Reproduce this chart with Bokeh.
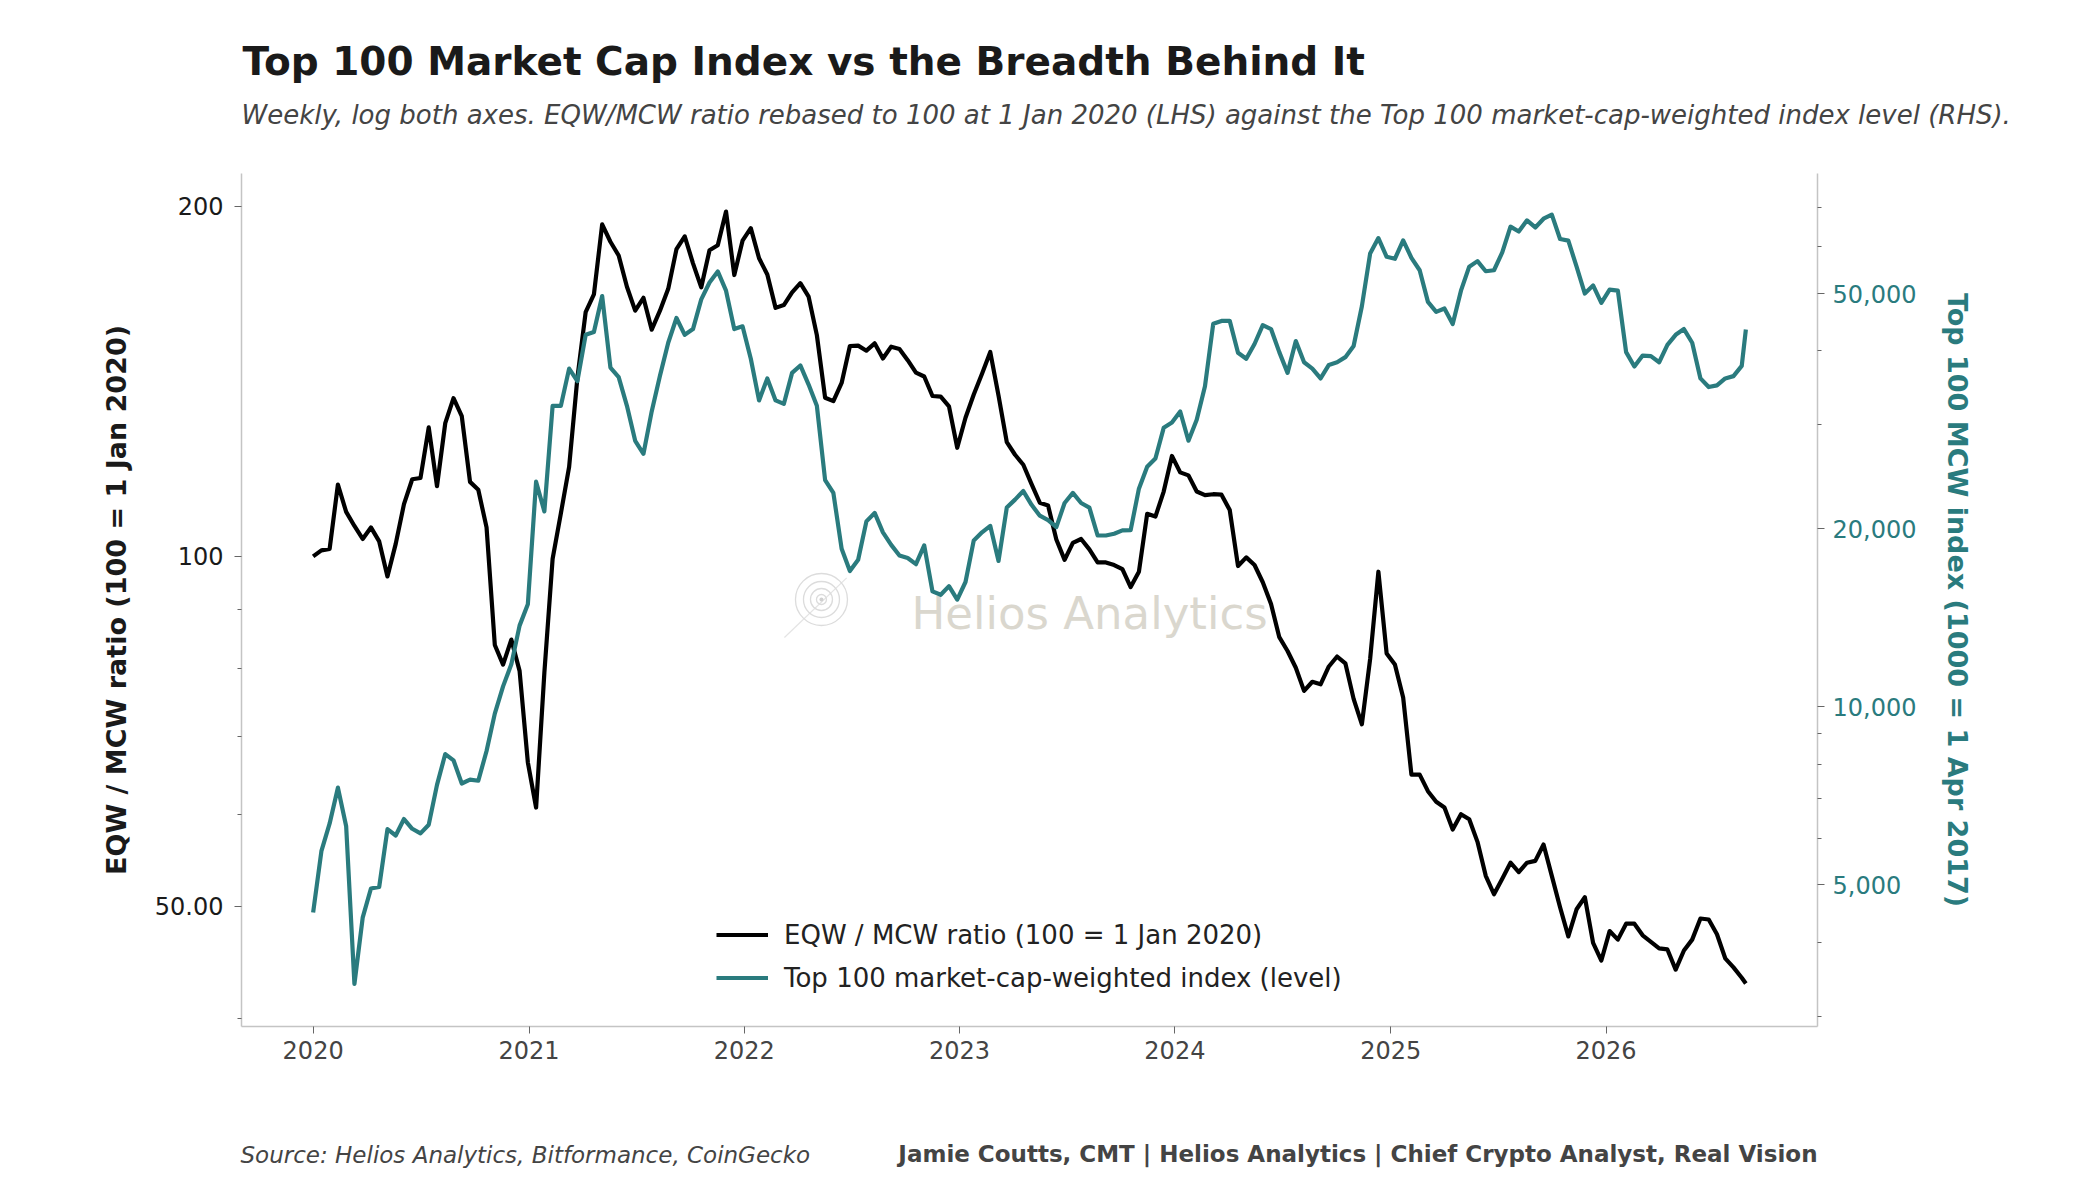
import math

import pandas as pd
from bokeh.plotting import figure
from bokeh.models import (Range1d, LogScale, LogAxis, FixedTicker,
                          NumeralTickFormatter, DatetimeTickFormatter,
                          Label, Legend, LegendItem)
from bokeh.embed import file_html
from bokeh.resources import INLINE

FONT = "DejaVu Sans"
TEAL = "#2a7b7e"

# weekly series, read every second week off the chart (+ the last weekly print)
dates = list(pd.date_range("2020-01-01", "2026-08-19", freq="14D")) + [pd.Timestamp("2026-08-26")]

# EQW / MCW ratio, rebased to 100 at 1 Jan 2020 (left axis)
eqw_ratio = [
    100.0, 101.2, 101.5, 115.3, 109.2, 106.2, 103.5, 105.9, 103.0, 96.1,
    102.5, 110.9, 116.5, 116.8, 129.1, 114.9, 130.2, 136.8, 132.0, 115.9,
    114.1, 105.9, 83.9, 80.7, 84.8, 79.7, 66.5, 60.8, 79.4, 99.5,
    108.9, 119.4, 142.4, 162.2, 168.0, 193.0, 186.5, 181.5, 170.6, 162.7,
    166.9, 156.7, 162.7, 169.9, 183.8, 188.5, 178.7, 170.4, 183.4, 185.2,
    198.0, 174.6, 186.9, 191.6, 180.5, 174.8, 163.6, 164.5, 168.7, 171.8,
    167.3, 155.0, 136.9, 136.0, 141.0, 151.7, 151.8, 150.3, 152.5, 148.0,
    151.5, 150.8, 147.5, 143.9, 142.8, 137.4, 137.2, 134.6, 124.0, 131.6,
    137.8, 143.6, 149.9, 137.5, 125.4, 122.3, 119.9, 115.4, 111.2, 110.6,
    103.4, 99.3, 102.7, 103.5, 101.4, 98.8, 98.8, 98.3, 97.5, 94.1,
    97.0, 108.8, 108.2, 113.7, 122.0, 118.1, 117.4, 113.7, 112.9, 113.1,
    113.0, 109.6, 98.1, 99.8, 98.3, 95.0, 91.0, 85.2, 82.9, 80.2,
    76.6, 78.0, 77.6, 80.4, 82.0, 80.9, 75.4, 71.7, 81.6, 97.0,
    82.5, 80.7, 75.6, 64.9, 64.9, 62.8, 61.5, 60.8, 58.2, 60.0,
    59.4, 56.8, 53.1, 51.2, 52.8, 54.5, 53.5, 54.5, 54.7, 56.5,
    53.1, 49.9, 47.1, 49.7, 50.9, 46.5, 44.9, 47.6, 46.8, 48.3,
    48.3, 47.2, 46.6, 46.0, 45.9, 44.1, 45.8, 46.8, 48.8, 48.7,
    47.3, 45.1, 44.3, 43.4, 42.9,
]

# Top 100 market-cap-weighted index level (right axis)
mcw_index = [
    4490, 5700, 6350, 7300, 6280, 3400, 4400, 4930, 4960, 6210,
    6060, 6460, 6220, 6110, 6320, 7380, 8320, 8120, 7420, 7530,
    7500, 8420, 9740, 10830, 11800, 13720, 14910, 24030, 21410, 32290,
    32290, 37330, 35540, 42580, 43060, 49520, 37480, 36100, 32290, 28180,
    26790, 31590, 36300, 41280, 45460, 42580, 43540, 48880, 52200, 54500,
    50560, 43540, 44010, 38790, 32980, 35930, 32980, 32530, 36710, 37790,
    35080, 32290, 24180, 23000, 18510, 16970, 17730, 20590, 21280, 19730,
    18790, 18030, 17850, 17430, 18750, 15680, 15470, 16000, 15180, 16260,
    19120, 19730, 20230, 17650, 21730, 22410, 23170, 21960, 21050, 20690,
    20140, 22120, 23000, 22120, 21730, 19490, 19490, 19620, 19880, 19900,
    23390, 25470, 26310, 29640, 30260, 31590, 28190, 30580, 34840, 44460,
    44950, 44950, 39710, 38780, 41080, 44200, 43540, 39800, 36710, 41560,
    38260, 37330, 35930, 37870, 38260, 39030, 40760, 47590, 58430, 62050,
    57690, 57250, 61520, 57470, 54750, 48410, 46560, 47170, 44400, 50560,
    55520, 56730, 54540, 54750, 58690, 64880, 63650, 66490, 64680, 66920,
    68000, 61840, 61440, 55520, 49990, 51620, 48230, 50780, 50560, 39800,
    37630, 39270, 39190, 38260, 40940, 42580, 43540, 41280, 35930, 34740,
    34970, 35930, 36250, 37720, 43450,
]

year_ticks = [2020, 2021, 2022, 2023, 2024, 2025, 2026]
eqw_ticks = [50, 100, 200]
eqw_minor = [40, 60, 70, 80, 90]
eqw_labels = {50: "50.00", 100: "100", 200: "200"}
mcw_ticks = [5000, 10000, 20000, 50000]
mcw_minor = [3000, 4000, 6000, 7000, 8000, 9000, 30000, 40000, 60000, 70000]
eqw_lo, eqw_hi = 39.4, 213.5
mcw_lo, mcw_hi = 2880, 79800

pad = (dates[-1] - dates[0]) * 0.05
x_start, x_end = dates[0] - pad, dates[-1] + pad

p = figure(width=2084, height=1184, x_axis_type="datetime", y_axis_type="log",
           x_range=Range1d(x_start, x_end), y_range=Range1d(eqw_lo, eqw_hi),
           output_backend="svg", toolbar_location=None,
           min_border_left=241, min_border_right=267,
           min_border_top=173, min_border_bottom=158)
p.background_fill_color = "white"
p.border_fill_color = "white"
p.outline_line_color = None
p.xgrid.visible = False
p.ygrid.visible = False

# second (log) scale for the index level
p.extra_y_ranges = {"mcw": Range1d(mcw_lo, mcw_hi)}
p.extra_y_scales = {"mcw": LogScale()}


def style_axis(ax, label_color):
    ax.axis_line_color = "#c4c4c4"
    ax.axis_line_width = 1.5
    ax.major_tick_line_color = "#666666"
    ax.minor_tick_line_color = "#666666"
    ax.major_tick_in = 0
    ax.major_tick_out = 7
    ax.minor_tick_in = 0
    ax.minor_tick_out = 4
    ax.major_label_text_font = FONT
    ax.major_label_text_font_size = "24px"
    ax.major_label_text_color = label_color
    ax.axis_label_text_font = FONT
    ax.axis_label_text_font_size = "27px"
    ax.axis_label_text_font_style = "bold"


xaxis = p.below[0]
style_axis(xaxis, "#444444")
xaxis.ticker = FixedTicker(ticks=[pd.Timestamp(f"{y}-01-01").value / 1e6 for y in year_ticks])
xaxis.formatter = DatetimeTickFormatter(years="%Y", months="%Y", days="%Y")
xaxis.major_label_standoff = 7

left = p.left[0]
style_axis(left, "#1a1a1a")
left.ticker = FixedTicker(ticks=eqw_ticks, minor_ticks=eqw_minor)
left.major_label_overrides = eqw_labels
left.major_label_standoff = 11
left.axis_label = "EQW / MCW ratio (100 = 1 Jan 2020)"
left.axis_label_text_color = "#1a1a1a"
left.axis_label_standoff = 20

right = LogAxis(y_range_name="mcw")
style_axis(right, TEAL)
right.ticker = FixedTicker(ticks=mcw_ticks, minor_ticks=mcw_minor)
right.formatter = NumeralTickFormatter(format="0,0")
right.major_label_standoff = 8
right.axis_label = "Top 100 MCW index (1000 = 1 Apr 2017)"
right.axis_label_text_color = TEAL
right.axis_label_standoff = 23
p.add_layout(right, "right")


# faint watermark, placed by fraction of the plotting area
def frame_point(fx, fy):
    x = x_start + (x_end - x_start) * fx
    y = 10 ** (math.log10(eqw_lo) + (math.log10(eqw_hi) - math.log10(eqw_lo)) * fy)
    return x, y


lx0, ly0 = frame_point(0.3445, 0.456)
lx1, ly1 = frame_point(0.384, 0.526)
p.segment(x0=[lx0], y0=[ly0], x1=[lx1], y1=[ly1], line_color="#e4e4e4", line_width=1.2)
cx, cy = frame_point(0.368, 0.5006)
p.scatter(x=[cx] * 4, y=[cy] * 4, size=[52, 36, 22, 10], marker="circle",
          fill_alpha=0, line_color="#dcdcdc", line_width=1.3)
p.scatter(x=[cx], y=[cy], size=4, marker="circle", fill_color="#d0d0d0", line_color=None)
p.add_layout(Label(x=670, y=413, x_units="screen", y_units="screen",
                   text="Helios Analytics", text_font=FONT, text_font_size="45px",
                   text_color="#dad7ce", text_baseline="alphabetic", level="underlay"))

eqw_line = p.line(dates, eqw_ratio, line_color="black", line_width=4.2, line_join="round")
mcw_line = p.line(dates, mcw_index, line_color=TEAL, line_width=4.2, line_join="round",
                  y_range_name="mcw")

legend = Legend(items=[
    LegendItem(label="EQW / MCW ratio (100 = 1 Jan 2020)", renderers=[eqw_line]),
    LegendItem(label="Top 100 market-cap-weighted index (level)", renderers=[mcw_line]),
], location=(475, 27))
legend.border_line_color = None
legend.background_fill_alpha = 0
legend.padding = 0
legend.margin = 0
legend.spacing = 0
legend.glyph_width = 52
legend.glyph_height = 43
legend.label_height = 43
legend.label_standoff = 16
legend.label_text_font = FONT
legend.label_text_font_size = "26px"
legend.label_text_color = "#222222"
p.add_layout(legend)

# title, subtitle and footer sit in stacked top side panels (not clipped to the frame);
# each offset is measured from the bottom of its own panel
p.add_layout(Label(x=1, y=112, x_units="screen", y_units="screen",
                   text="Top 100 Market Cap Index vs the Breadth Behind It",
                   text_font=FONT, text_font_size="39px", text_font_style="bold",
                   text_color="#1a1a1a", text_baseline="alphabetic"), "above")
p.add_layout(Label(x=0, y=14, x_units="screen", y_units="screen",
                   text="Weekly, log both axes. EQW/MCW ratio rebased to 100 at 1 Jan 2020 (LHS) "
                        "against the Top 100 market-cap-weighted index level (RHS).",
                   text_font=FONT, text_font_size="26px", text_font_style="italic",
                   text_color="#444444", text_baseline="alphabetic"), "above")
p.add_layout(Label(x=-1, y=-1056, x_units="screen", y_units="screen",
                   text="Source: Helios Analytics, Bitformance, CoinGecko",
                   text_font=FONT, text_font_size="23px", text_font_style="italic",
                   text_color="#444444", text_baseline="alphabetic"), "above")
p.add_layout(Label(x=1576, y=-1081, x_units="screen", y_units="screen",
                   text="Jamie Coutts, CMT | Helios Analytics | Chief Crypto Analyst, Real Vision",
                   text_font=FONT, text_font_size="23px", text_font_style="bold",
                   text_color="#444444", text_baseline="alphabetic", text_align="right"), "above")

open("out.html", "w").write(file_html(p, INLINE, "Top 100 Market Cap Index vs the Breadth Behind It"))
